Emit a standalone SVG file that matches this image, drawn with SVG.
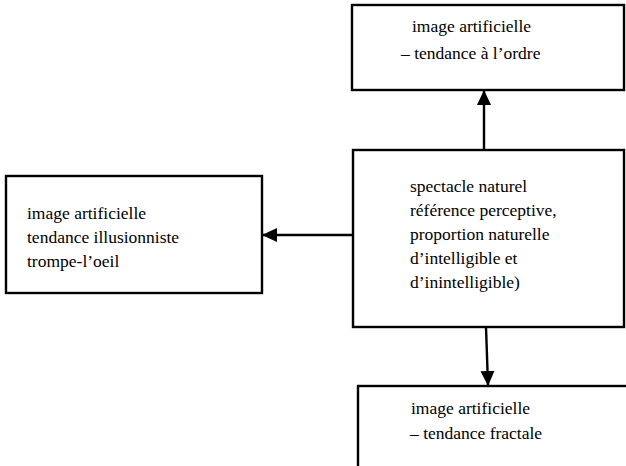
<svg xmlns="http://www.w3.org/2000/svg" width="626" height="466" viewBox="0 0 626 466">
<defs>
<style>
.box{fill:#fff;stroke:#000;stroke-width:2.4}
text{font-family:'Liberation Serif','Times New Roman',serif;font-size:17.5px;fill:#000}
.c{stroke:#000;stroke-width:2.4;fill:none}
</style>
<marker id="ah" markerWidth="15" markerHeight="15" refX="14" refY="7.5" orient="auto" markerUnits="userSpaceOnUse" viewBox="0 0 15 15">
<path d="M0,0.5 L15,7.5 L0,14.5 z" fill="#000"/>
</marker>
</defs>
<rect width="626" height="466" fill="#fff"/>
<g id="top">
<rect class="box" x="352" y="5" width="272" height="85"/>
<text x="412" y="32">image artificielle</text>
<text x="401" y="59">– tendance à l’ordre</text>
</g>
<g id="center">
<rect class="box" x="353" y="150" width="271" height="177"/>
<text x="410" y="192">spectacle naturel</text>
<text x="410" y="216">référence perceptive,</text>
<text x="410" y="240">proportion naturelle</text>
<text x="410" y="264">d’intelligible et</text>
<text x="410" y="288">d’inintelligible)</text>
</g>
<g id="left">
<rect class="box" x="6" y="176" width="256" height="117"/>
<text x="27" y="219">image artificielle</text>
<text x="27" y="243">tendance illusionniste</text>
<text x="27" y="267">trompe-l’oeil</text>
</g>
<g id="bottom">
<rect class="box" x="358" y="386" width="272" height="90"/>
<text x="411" y="414">image artificielle</text>
<text x="410" y="439">– tendance fractale</text>
</g>
<g id="connectors">
<path class="c" d="M484,150 L484,91" marker-end="url(#ah)"/>
<path class="c" d="M353,235 L263,235" marker-end="url(#ah)"/>
<path class="c" d="M486,327 L488,385" marker-end="url(#ah)"/>
</g>
</svg>
